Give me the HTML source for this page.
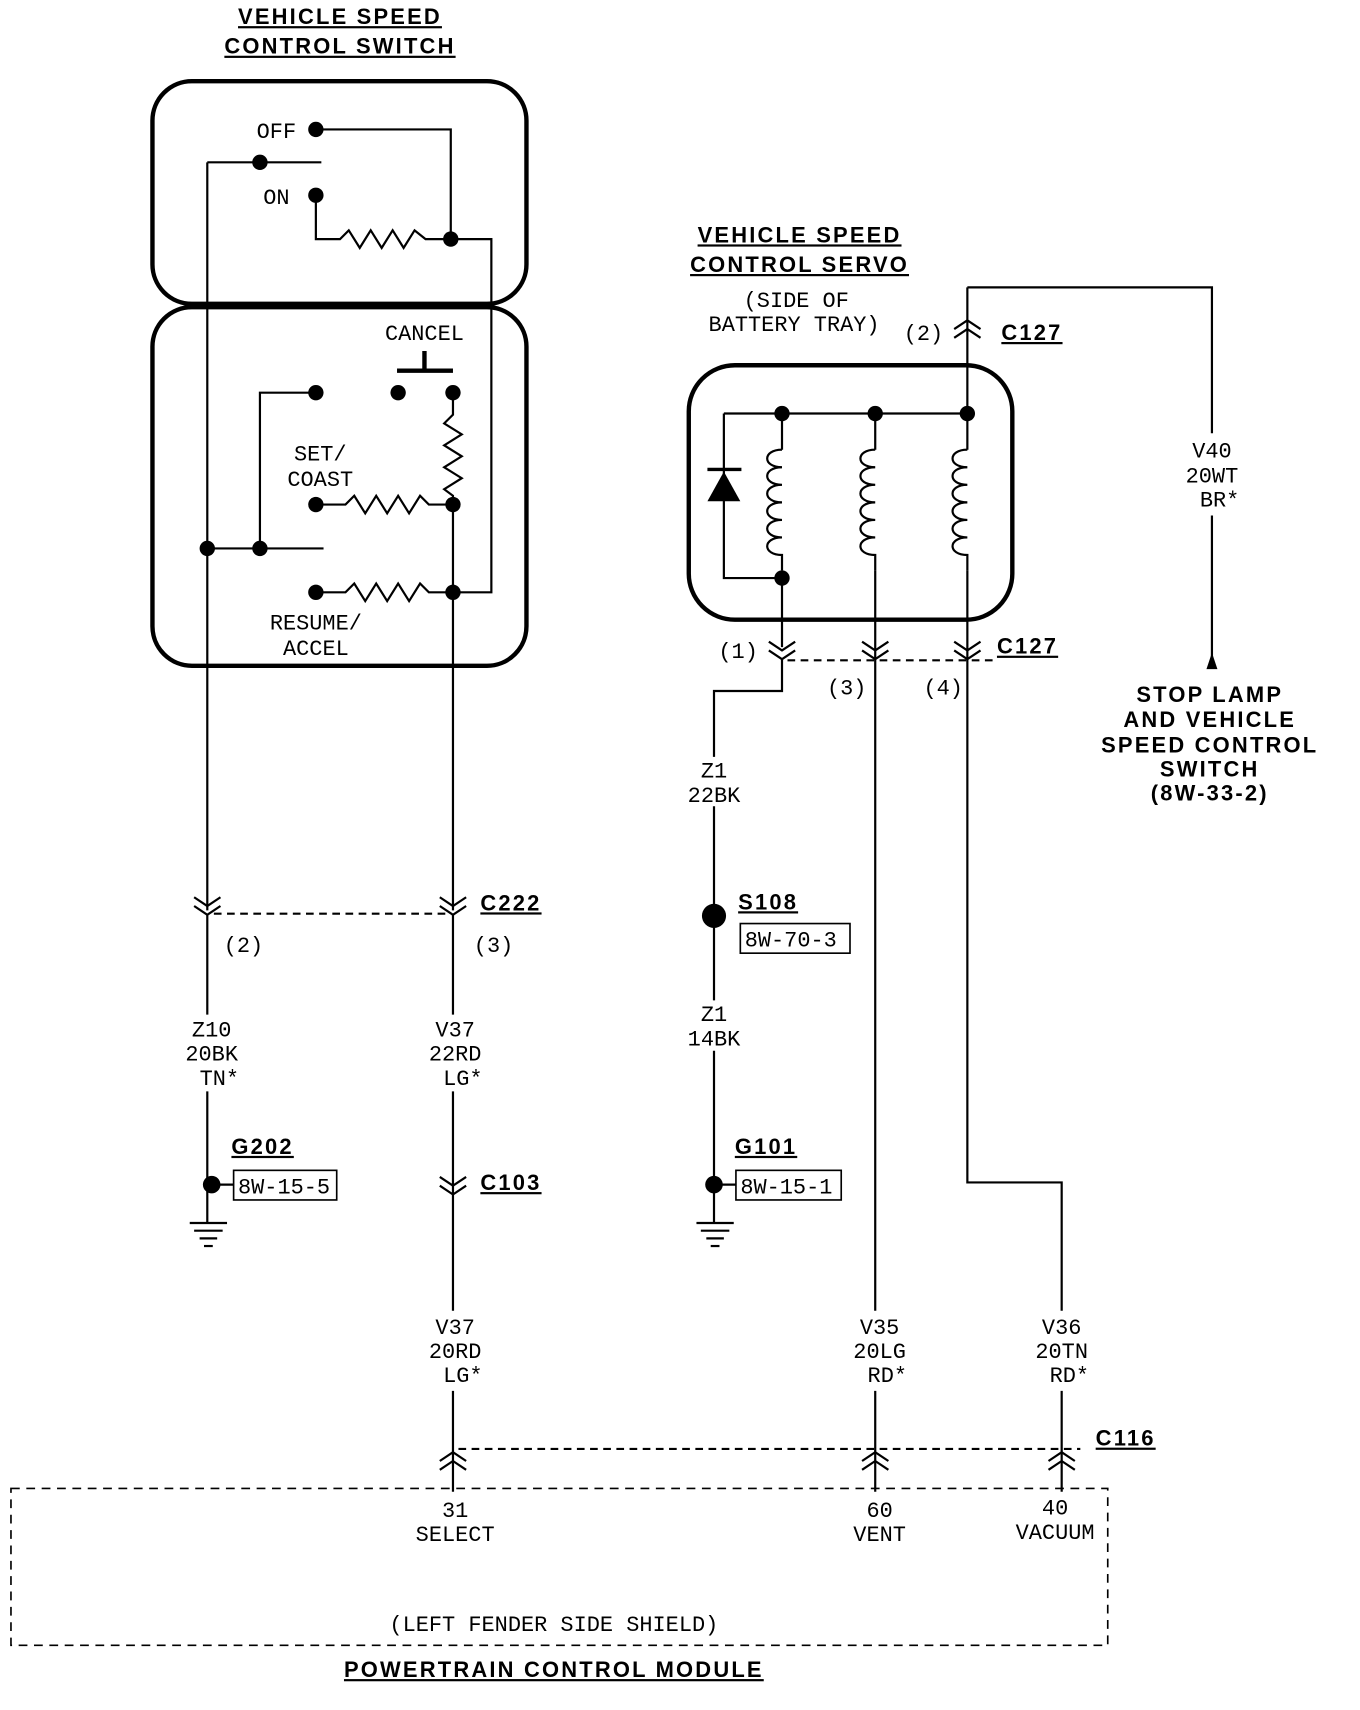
<!DOCTYPE html>
<html><head><meta charset="utf-8"><style>
html,body{margin:0;padding:0;background:#fff;}
svg{display:block}
text{font-family:"Liberation Mono","DejaVu Sans Mono",monospace;font-size:20px;fill:#000}
.b{font-family:"Liberation Sans",sans-serif;font-weight:bold;font-size:20px;text-decoration:underline;letter-spacing:2px}
.bb{font-family:"Liberation Sans",sans-serif;font-weight:bold;font-size:20px;letter-spacing:2px}
</style></head><body>
<svg width="1360" height="1710" viewBox="0 0 1240 1559" preserveAspectRatio="none" xmlns="http://www.w3.org/2000/svg">
<g fill="none" stroke="#000" stroke-width="2">
<rect x="139" y="74" width="341" height="203" rx="36" stroke-width="4"/>
<rect x="139" y="280" width="341" height="327" rx="36" stroke-width="4"/>
<polyline points="288,118 411,118 411,218"/>
<polyline points="288,178 288,218 310,218 318,210 328,226 338,210 348,226 358,210 368,226 378,210 388,218 411,218 448,218 448,540 413,540"/>
<line x1="189" y1="148" x2="293" y2="148"/>
<line x1="189" y1="148" x2="189" y2="830"/>
<line x1="387" y1="320" x2="387" y2="338" stroke-width="4"/>
<line x1="362" y1="338" x2="413" y2="338" stroke-width="4"/>
<polyline points="237,500 237,358 288,358"/>
<polyline points="413,358 413,378 405,386 421,396 405,406 421,416 405,426 421,436 405,446 413,452 413,830"/>
<polyline points="288,460 315,460 323,452 333,468 343,452 353,468 363,452 373,468 383,452 391,460 413,460"/>
<line x1="189" y1="500" x2="295" y2="500"/>
<polyline points="288,540 315,540 323,532 333,548 343,532 353,548 363,532 373,548 383,532 391,540 413,540"/>
<polyline points="177,818 189,826 201,818"/><polyline points="177,826 189,834 201,826"/>
<polyline points="401,818 413,826 425,818"/><polyline points="401,826 413,834 425,826"/>
<line x1="195" y1="833" x2="410" y2="833" stroke-dasharray="7,5"/>
<line x1="189" y1="834" x2="189" y2="925"/>
<line x1="189" y1="995" x2="189" y2="1115"/>
<line x1="413" y1="834" x2="413" y2="925"/>
<line x1="413" y1="995" x2="413" y2="1195"/>
<polyline points="401,1073 413,1081 425,1073"/><polyline points="401,1081 413,1089 425,1081"/>
<line x1="173" y1="1115" x2="207" y2="1115"/><line x1="177" y1="1122" x2="203" y2="1122"/><line x1="182" y1="1129" x2="198" y2="1129"/><line x1="186" y1="1136" x2="194" y2="1136"/>
<line x1="635" y1="1115" x2="669" y2="1115"/><line x1="639" y1="1122" x2="665" y2="1122"/><line x1="644" y1="1129" x2="660" y2="1129"/><line x1="648" y1="1136" x2="656" y2="1136"/>
<rect x="213" y="1067" width="94" height="27" stroke-width="1.5"/>
<rect x="675" y="842" width="100" height="27" stroke-width="1.5"/>
<rect x="671" y="1067" width="96" height="27" stroke-width="1.5"/>
<rect x="628" y="333" width="295" height="232" rx="42" stroke-width="4"/>
<polyline points="660,377 882,377"/>
<polyline points="660,377 660,527 713,527"/>
<line x1="645" y1="428" x2="676" y2="428" stroke-width="3"/>
<path d="M713,377 V410 M713,520 V590 M798,377 V410 M798,520 V1195 M882,262 V410 M882,520 V1078 H968 V1195"/>
<path d="M713,410 c-18,0 -18,16 0,16 c-18,0 -18,16 0,16 c-18,0 -18,16 0,16 c-18,0 -18,16 0,16 c-18,0 -18,16 0,16 c-18,0 -18,16 0,16 V520"/>
<path d="M798,410 c-18,0 -18,16 0,16 c-18,0 -18,16 0,16 c-18,0 -18,16 0,16 c-18,0 -18,16 0,16 c-18,0 -18,16 0,16 c-18,0 -18,16 0,16 V520"/>
<path d="M882,410 c-18,0 -18,16 0,16 c-18,0 -18,16 0,16 c-18,0 -18,16 0,16 c-18,0 -18,16 0,16 c-18,0 -18,16 0,16 c-18,0 -18,16 0,16 V520"/>
<polyline points="882,262 1105,262 1105,395"/>
<line x1="1105" y1="470" x2="1105" y2="600"/>
<polyline points="870,300 882,292 894,300"/><polyline points="870,308 882,300 894,308"/>
<polyline points="701,585 713,593 725,585"/><polyline points="701,593 713,601 725,593"/>
<polyline points="786,585 798,593 810,585"/><polyline points="786,593 798,601 810,593"/>
<polyline points="870,585 882,593 894,585"/><polyline points="870,593 882,601 894,593"/>
<line x1="718" y1="602" x2="905" y2="602" stroke-dasharray="7,5"/>
<polyline points="713,601 713,630 651,630 651,690"/>
<line x1="651" y1="735" x2="651" y2="912"/>
<line x1="651" y1="958" x2="651" y2="1115"/>
<polyline points="401,1332 413,1324 425,1332"/><polyline points="401,1340 413,1332 425,1340"/>
<polyline points="786,1332 798,1324 810,1332"/><polyline points="786,1340 798,1332 810,1340"/>
<polyline points="956,1332 968,1324 980,1332"/><polyline points="956,1340 968,1332 980,1340"/>
<line x1="413" y1="1268" x2="413" y2="1360"/>
<line x1="798" y1="1268" x2="798" y2="1360"/>
<line x1="968" y1="1268" x2="968" y2="1360"/>
<line x1="418" y1="1321" x2="985" y2="1321" stroke-dasharray="7,5"/>
<rect x="10" y="1357" width="1000" height="143" stroke-dasharray="8,6" stroke-width="1.5"/>
</g>
<g fill="#000">
<circle cx="288" cy="118" r="7"/><circle cx="288" cy="178" r="7"/><circle cx="237" cy="148" r="7"/><circle cx="411" cy="218" r="7"/>
<circle cx="288" cy="358" r="7"/><circle cx="363" cy="358" r="7"/><circle cx="413" cy="358" r="7"/>
<circle cx="288" cy="460" r="7"/><circle cx="413" cy="460" r="7"/>
<circle cx="189" cy="500" r="7"/><circle cx="237" cy="500" r="7"/>
<circle cx="288" cy="540" r="7"/><circle cx="413" cy="540" r="7"/>
<circle cx="193" cy="1080" r="8"/><circle cx="651" cy="1080" r="8"/><circle cx="651" cy="835" r="11"/>
<circle cx="713" cy="377" r="7"/><circle cx="798" cy="377" r="7"/><circle cx="882" cy="377" r="7"/><circle cx="713" cy="527" r="7"/>
<polygon points="645,457 675,457 660,430"/>
<polygon points="1100,610 1110,610 1105,595"/>
</g>
<line x1="193" y1="1080" x2="213" y2="1080" stroke="#000" stroke-width="2"/>
<line x1="651" y1="1080" x2="671" y2="1080" stroke="#000" stroke-width="2"/>
<g text-anchor="middle">
<text class="b" x="310" y="22">VEHICLE SPEED</text>
<text class="b" x="310" y="49">CONTROL SWITCH</text>
<text x="252" y="126">OFF</text>
<text x="252" y="186">ON</text>
<text x="387" y="310">CANCEL</text>
<text x="292" y="420">SET/</text>
<text x="292" y="443">COAST</text>
<text x="288" y="574">RESUME/</text>
<text x="288" y="597">ACCEL</text>
<text class="b" x="729" y="221">VEHICLE SPEED</text>
<text class="b" x="729" y="248">CONTROL SERVO</text>
<text x="726" y="280">(SIDE OF</text>
<text x="724" y="302">BATTERY TRAY)</text>
<text x="842" y="310">(2)</text>
<text x="673" y="600">(1)</text>
<text x="772" y="633">(3)</text>
<text x="860" y="633">(4)</text>
<text x="1105" y="417">V40</text>
<text x="1105" y="440">20WT</text>
<text x="1112" y="462">BR*</text>
<text class="bb" x="1103" y="640">STOP LAMP</text>
<text class="bb" x="1103" y="663">AND VEHICLE</text>
<text class="bb" x="1103" y="686">SPEED CONTROL</text>
<text class="bb" x="1103" y="708">SWITCH</text>
<text class="bb" x="1103" y="730">(8W-33-2)</text>
<text x="222" y="868">(2)</text>
<text x="450" y="868">(3)</text>
<text x="193" y="945">Z10</text><text x="193" y="967">20BK</text><text x="200" y="989">TN*</text>
<text x="415" y="945">V37</text><text x="415" y="967">22RD</text><text x="422" y="989">LG*</text>
<text x="651" y="709">Z1</text><text x="651" y="731">22BK</text>
<text x="651" y="931">Z1</text><text x="651" y="953">14BK</text>
<text x="415" y="1216">V37</text><text x="415" y="1238">20RD</text><text x="422" y="1260">LG*</text>
<text x="802" y="1216">V35</text><text x="802" y="1238">20LG</text><text x="809" y="1260">RD*</text>
<text x="968" y="1216">V36</text><text x="968" y="1238">20TN</text><text x="975" y="1260">RD*</text>
<text x="415" y="1383">31</text><text x="415" y="1405">SELECT</text>
<text x="802" y="1383">60</text><text x="802" y="1405">VENT</text>
<text x="962" y="1381">40</text><text x="962" y="1403">VACUUM</text>
<text x="505" y="1487">(LEFT FENDER SIDE SHIELD)</text>
<text class="b" x="505" y="1529">POWERTRAIN CONTROL MODULE</text>
</g>
<text class="b" x="913" y="310">C127</text>
<text class="b" x="909" y="596">C127</text>
<text class="b" x="438" y="830">C222</text>
<text class="b" x="438" y="1085">C103</text>
<text class="b" x="999" y="1318">C116</text>
<text class="b" x="211" y="1052">G202</text>
<text class="b" x="673" y="829">S108</text>
<text class="b" x="670" y="1052">G101</text>
<text x="217" y="1088">8W-15-5</text>
<text x="679" y="863">8W-70-3</text>
<text x="675" y="1088">8W-15-1</text>
</svg>
</body></html>
